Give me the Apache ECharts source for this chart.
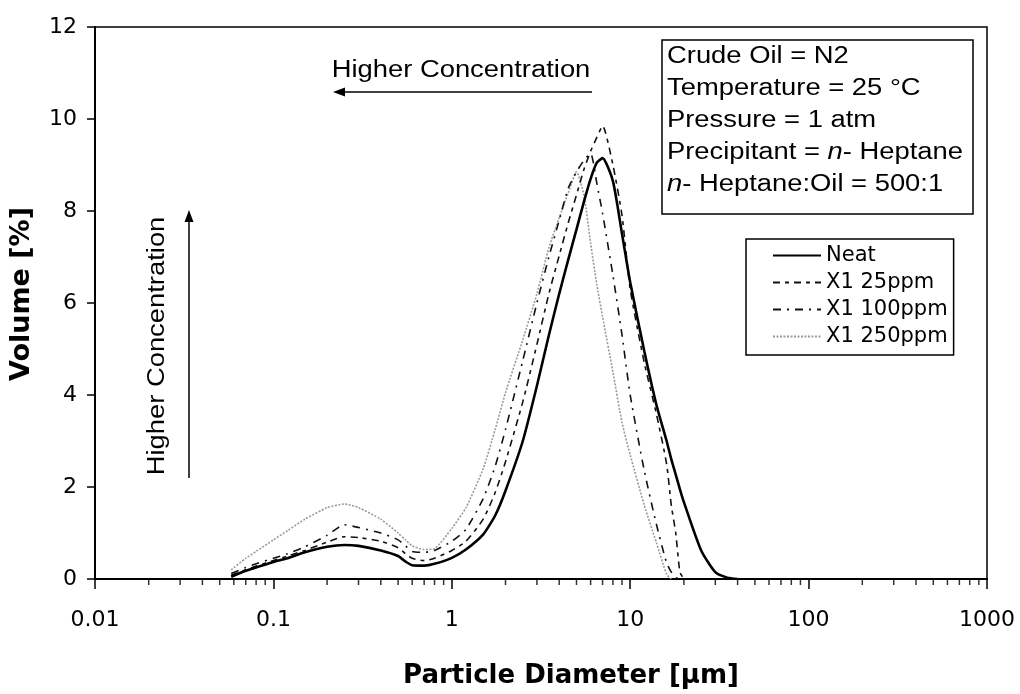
<!DOCTYPE html>
<html><head><meta charset="utf-8">
<script src="https://cdn.jsdelivr.net/npm/echarts@6/dist/echarts.min.js"></script>
<style>html,body{margin:0;padding:0;background:#fff}#c{width:1020px;height:694px}</style>
</head><body><div id="c"></div>
<script>
// ---- data ----
const diameters = [0.058, 0.07, 0.08, 0.1, 0.12, 0.15, 0.2, 0.25, 0.3, 0.4, 0.5, 0.55, 0.6, 0.7, 0.8, 1, 1.2, 1.5, 1.75, 2, 2.5, 3, 3.5, 4, 4.5, 5, 5.5, 6, 6.5, 7, 8, 9, 10, 12, 14, 16, 17, 18, 19, 20, 25, 30, 35, 40];
const neat   = [0.05, 0.18, 0.25, 0.37, 0.45, 0.58, 0.7, 0.74, 0.72, 0.62, 0.5, 0.38, 0.3, 0.29, 0.33, 0.46, 0.64, 0.97, 1.38, 1.92, 3.0, 4.2, 5.3, 6.2, 6.95, 7.6, 8.2, 8.7, 9.05, 9.15, 8.65, 7.5, 6.45, 4.95, 3.8, 3.0, 2.6, 2.27, 1.95, 1.67, 0.62, 0.15, 0.03, 0.0];
const ppm25  = [0.08, 0.2, 0.28, 0.4, 0.5, 0.62, 0.8, 0.92, 0.9, 0.82, 0.68, 0.55, 0.45, 0.4, 0.45, 0.62, 0.82, 1.3, 1.88, 2.55, 3.85, 5.1, 6.2, 7.03, 7.75, 8.35, 8.9, 9.3, 9.6, 9.85, 9.0, 7.9, 6.3, 4.7, 3.6, 2.5, 1.6, 1.0, 0.15, 0, null, null, null, null];
const ppm100 = [0.12, 0.25, 0.33, 0.45, 0.55, 0.7, 0.95, 1.18, 1.12, 1.0, 0.85, 0.72, 0.6, 0.58, 0.62, 0.82, 1.08, 1.75, 2.45, 3.25, 4.75, 6.0, 7.0, 7.8, 8.5, 8.85, 9.1, 9.25, 8.6, 7.95, 6.6, 5.3, 4.0, 2.35, 1.2, 0.35, 0.15, 0.03, 0, null, null, null, null, null];
const ppm250 = [0.2, 0.45, 0.6, 0.85, 1.05, 1.3, 1.55, 1.63, 1.55, 1.3, 1.0, 0.85, 0.72, 0.64, 0.66, 1.1, 1.55, 2.4, 3.25, 4.05, 5.2, 6.2, 7.2, 7.85, 8.4, 8.85, 8.35, 7.3, 6.4, 5.7, 4.5, 3.4, 2.7, 1.6, 0.8, 0.1, 0, null, null, null, null, null, null, null];
const seriesNames = ['Neat', 'X1 25ppm', 'X1 100ppm', 'X1 250ppm'];
const xTickLabels = ['0.01', '0.1', '1', '10', '100', '1000'];
const annotationLines = ['Crude Oil = N2', 'Temperature = 25 °C', 'Pressure = 1 atm', 'Precipitant = {i|n}- Heptane', '{i|n}- Heptane:Oil = 500:1'];
const arrowText = 'Higher Concentration';

// minor tick positions of the log axis (2..9 in each decade)
const minorTicks = [];
for (let e = -2; e <= 2; e++) for (let k = 2; k <= 9; k++) minorTicks.push([+(k * Math.pow(10, e)).toPrecision(3), 0]);

const pair = arr => diameters.map((d, i) => [d, arr[i]]);
const F = 'Liberation Sans';
const FD = 'DejaVu Sans';

const chart = echarts.init(document.getElementById('c'), null, {renderer: 'canvas'});

const txt = (x, y, text, extra) => Object.assign({
  type: 'text', x: x, y: y, scaleX: 1.19,
  style: {text: text, fontSize: 23, fontFamily: F, fill: '#000', align: 'left', verticalAlign: 'middle',
    rich: {i: {fontStyle: 'italic', fontSize: 23, fontFamily: F, fill: '#000'}}},
  z: 100
}, extra || {});

const graphics = [
  {type: 'rect', shape: {x: 662, y: 40, width: 311, height: 174}, style: {fill: '#fff', stroke: '#000', lineWidth: 1.5}, z: 99},
];
annotationLines.forEach((t, i) => graphics.push(txt(667, 57 + i * 32, t)));
// horizontal arrow + label
graphics.push(txt(461, 71, arrowText, {style: {text: arrowText, fontSize: 23, fontFamily: F, fill: '#000', align: 'center', verticalAlign: 'middle'}}));
graphics.push({type: 'line', shape: {x1: 592, y1: 92, x2: 342, y2: 92}, style: {stroke: '#000', lineWidth: 1.5}, z: 100});
graphics.push({type: 'polygon', shape: {points: [[333, 92], [345, 87.5], [345, 96.5]]}, style: {fill: '#000'}, z: 100});
// vertical arrow + label
graphics.push(txt(158, 346, arrowText, {rotation: Math.PI / 2, style: {text: arrowText, fontSize: 23, fontFamily: F, fill: '#000', align: 'center', verticalAlign: 'middle'}}));
graphics.push({type: 'line', shape: {x1: 189, y1: 478, x2: 189, y2: 219}, style: {stroke: '#000', lineWidth: 1.5}, z: 100});
graphics.push({type: 'polygon', shape: {points: [[189, 210], [184.5, 222], [193.5, 222]]}, style: {fill: '#000'}, z: 100});

const lineSeries = (name, data, color, width, type, z) => ({
  name: name, type: 'line', data: pair(data), showSymbol: false, symbol: 'none', connectNulls: false,
  smooth: 0.2,
  lineStyle: {color: color, width: width, type: type}, itemStyle: {color: color}, z: z, silent: true, animation: false
});

chart.setOption({
  backgroundColor: '#fff',
  animation: false,
  grid: {left: 95, right: 33, top: 27, bottom: 111, show: true, borderColor: '#000', borderWidth: 1.5, backgroundColor: 'transparent'},
  xAxis: {
    type: 'log', logBase: 10, min: 0.01, max: 1000, splitNumber: 5,
    name: 'Particle Diameter [µm]', nameLocation: 'middle', nameGap: 84,
    nameTextStyle: {fontFamily: FD, fontWeight: 'bold', fontSize: 26, color: '#000', padding: [0, 0, 0, 60]},
    axisLine: {lineStyle: {color: '#000', width: 2}},
    axisTick: {show: true, inside: false, length: 10, lineStyle: {color: '#000', width: 1.5}},
    axisLabel: {fontFamily: FD, fontSize: 22, color: '#000', margin: 30,
      formatter: v => xTickLabels[Math.round(Math.log10(v)) + 2]},
    splitLine: {show: false}
  },
  yAxis: {
    type: 'value', min: 0, max: 12, interval: 2,
    name: 'Volume [%]', nameLocation: 'middle', nameGap: 60, nameRotate: 90,
    nameTextStyle: {fontFamily: FD, fontWeight: 'bold', fontSize: 27, color: '#000', padding: [0, 0, 0, 18]},
    axisLine: {show: true, lineStyle: {color: '#000', width: 2}},
    axisTick: {show: true, inside: false, length: 8, lineStyle: {color: '#000', width: 1.5}},
    axisLabel: {fontFamily: FD, fontSize: 22, color: '#000', margin: 18},
    splitLine: {show: false}
  },
  legend: {
    data: seriesNames, orient: 'vertical', left: 746, top: 239,
    itemWidth: 48, itemHeight: 12, itemGap: 6,
    padding: [6, 6, 8, 26], borderColor: '#000', borderWidth: 1.5, backgroundColor: '#fff',
    itemStyle: {opacity: 0},
    textStyle: {fontFamily: FD, fontSize: 21, color: '#000'},
    selectedMode: false
  },
  graphic: graphics,
  series: [
    lineSeries('X1 250ppm', ppm250, '#9a9a9a', 1.6, [2, 1.5], 3),
    lineSeries('X1 100ppm', ppm100, '#111', 1.6, [8, 6, 2, 6], 4),
    lineSeries('X1 25ppm', ppm25, '#111', 1.6, [7, 5, 4, 5], 5),
    lineSeries('Neat', neat, '#000', 2.6, 'solid', 6),
    {name: 'minor ticks', type: 'scatter', data: minorTicks, symbol: 'rect', symbolSize: [1.5, 6], symbolOffset: [0, 3],
      itemStyle: {color: '#000'}, clip: false, silent: true, z: 7, animation: false}
  ]
});
</script></body></html>
